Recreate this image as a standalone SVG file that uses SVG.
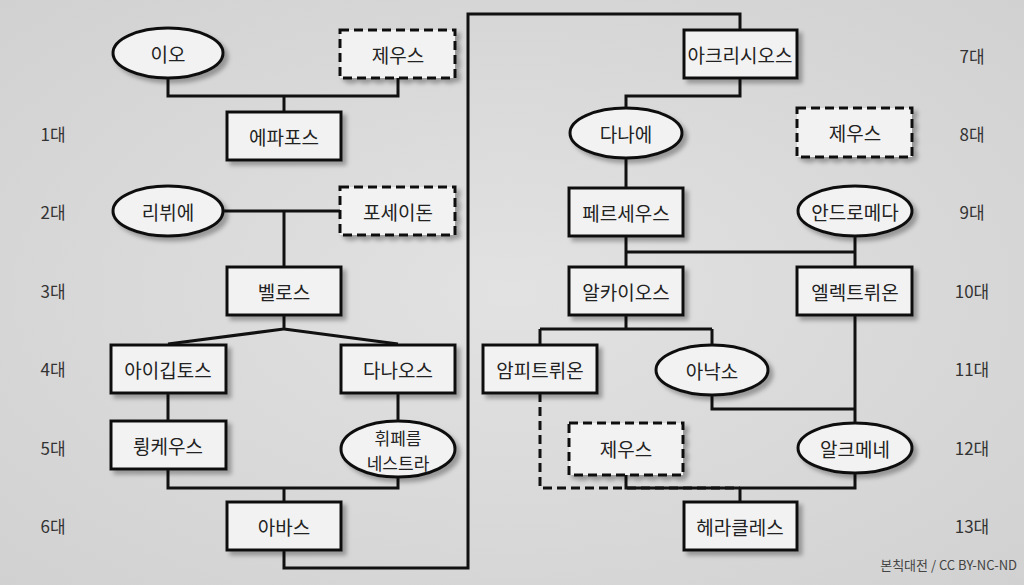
<svg xmlns="http://www.w3.org/2000/svg" width="1024" height="585" viewBox="0 0 1024 585">
<defs>
<radialGradient id="bg" cx="0.5" cy="0.5" r="0.75"><stop offset="0" stop-color="#e2e2e2"/><stop offset="1" stop-color="#d0d0d0"/></radialGradient>
<filter id="sh" x="-20%" y="-20%" width="150%" height="160%"><feDropShadow dx="4" dy="4" stdDeviation="2" flood-color="#000" flood-opacity="0.3"/></filter>
</defs>
<style>
.n{fill:#f2f2f2;stroke:#111;stroke-width:3;filter:url(#sh)}
.d{stroke-dasharray:9 5}
.t{font-family:"Noto Sans CJK KR","Noto Sans",sans-serif;font-size:19px;fill:#222;text-anchor:middle;dominant-baseline:central}
.s{font-size:17px}
.g{font-family:"Noto Sans CJK KR","Noto Sans",sans-serif;font-size:17px;fill:#333;text-anchor:middle;dominant-baseline:central}
.c{fill:none;stroke:#111;stroke-width:3}
</style>
<rect width="1024" height="585" fill="url(#bg)"/>
<g id="connectors">
<path class="c" d="M168 78V96H398V78M284 96V112"/>
<path class="c" d="M223 211H340M284 211V267"/>
<path class="c" d="M284 315V329L168 344M284 329L398 344"/>
<path class="c" d="M168 393V421M398 393V421"/>
<path class="c" d="M168 469V488H398V477M284 488V502"/>
<path class="c" d="M284 550V568H468V14H740V30"/>
<path class="c" d="M740 78V96H626V108M626 158V188"/>
<path class="c" d="M626 236V267M855 236V267M626 252H855"/>
<path class="c" d="M626 315V329M540 329H712M540 329V345M712 329V345"/>
<path class="c" d="M855 315V424M712 395V409H855"/>
<path class="c d" d="M540 393V488H740"/>
<path class="c" d="M626 475V488H855V473M740 488V502"/>
</g>
<g id="n1"><ellipse class="n" cx="168" cy="53" rx="55" ry="25"/><text class="t" x="168" y="53">이오</text></g>
<g id="n2"><rect class="n d" x="340" y="30" width="115" height="48"/><text class="t" x="398" y="54">제우스</text></g>
<g id="n3"><rect class="n" x="227" y="112" width="114" height="48"/><text class="t" x="284" y="136">에파포스</text></g>
<g id="n4"><ellipse class="n" cx="168" cy="211" rx="55" ry="25"/><text class="t" x="168" y="211">리뷔에</text></g>
<g id="n5"><rect class="n d" x="340" y="187" width="115" height="48"/><text class="t" x="398" y="211">포세이돈</text></g>
<g id="n6"><rect class="n" x="227" y="267" width="114" height="48"/><text class="t" x="284" y="291">벨로스</text></g>
<g id="n7"><rect class="n" x="111" y="345" width="115" height="48"/><text class="t" x="168" y="369">아이깁토스</text></g>
<g id="n8"><rect class="n" x="341" y="345" width="114" height="48"/><text class="t" x="398" y="369">다나오스</text></g>
<g id="n9"><rect class="n" x="111" y="421" width="115" height="48"/><text class="t" x="168" y="445">륑케우스</text></g>
<g id="n10"><ellipse class="n" cx="398" cy="449" rx="57" ry="28"/><text class="t s" x="398" y="437">휘페름</text><text class="t s" x="398" y="462">네스트라</text></g>
<g id="n11"><rect class="n" x="227" y="502" width="114" height="48"/><text class="t" x="284" y="526">아바스</text></g>
<g id="n12"><rect class="n" x="684" y="30" width="113" height="48"/><text class="t" x="740" y="54">아크리시오스</text></g>
<g id="n13"><ellipse class="n" cx="626" cy="133" rx="56" ry="25"/><text class="t" x="626" y="133">다나에</text></g>
<g id="n14"><rect class="n d" x="797" y="108" width="115" height="49"/><text class="t" x="855" y="132">제우스</text></g>
<g id="n15"><rect class="n" x="569" y="188" width="114" height="48"/><text class="t" x="626" y="212">페르세우스</text></g>
<g id="n16"><ellipse class="n" cx="855" cy="211" rx="57" ry="25"/><text class="t" x="855" y="211">안드로메다</text></g>
<g id="n17"><rect class="n" x="569" y="267" width="114" height="48"/><text class="t" x="626" y="291">알카이오스</text></g>
<g id="n18"><rect class="n" x="797" y="267" width="115" height="48"/><text class="t" x="855" y="291">엘렉트뤼온</text></g>
<g id="n19"><rect class="n" x="483" y="345" width="114" height="48"/><text class="t" x="540" y="369">암피트뤼온</text></g>
<g id="n20"><ellipse class="n" cx="712" cy="370" rx="56" ry="25"/><text class="t" x="712" y="370">아낙소</text></g>
<g id="n21"><rect class="n d" x="569" y="423" width="114" height="52"/><text class="t" x="626" y="448">제우스</text></g>
<g id="n22"><ellipse class="n" cx="855" cy="448" rx="57" ry="25"/><text class="t" x="855" y="448">알크메네</text></g>
<g id="n23"><rect class="n" x="684" y="502" width="113" height="48"/><text class="t" x="740" y="526">헤라클레스</text></g>
<g id="gen">
<text class="g" x="53" y="133">1대</text><text class="g" x="53" y="211">2대</text><text class="g" x="53" y="290">3대</text><text class="g" x="53" y="368">4대</text><text class="g" x="53" y="447">5대</text><text class="g" x="53" y="525">6대</text>
<text class="g" x="972" y="55">7대</text><text class="g" x="972" y="133">8대</text><text class="g" x="972" y="211">9대</text><text class="g" x="972" y="290">10대</text><text class="g" x="972" y="368">11대</text><text class="g" x="972" y="447">12대</text><text class="g" x="972" y="525">13대</text>
</g>
<text x="1017" y="570" style="font-family:'Noto Sans CJK KR','Noto Sans',sans-serif;font-size:13px;fill:#444;text-anchor:end">본칙대전 / CC BY-NC-ND</text>
</svg>
